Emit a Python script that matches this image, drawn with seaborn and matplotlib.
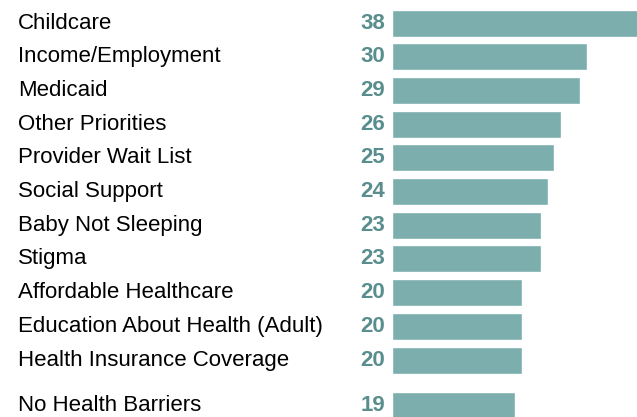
import matplotlib
matplotlib.use('Agg')
import matplotlib.pyplot as plt
import matplotlib.transforms as mtransforms
import seaborn as sns

# barriers, percent
categories = ['Childcare', 'Income/Employment', 'Medicaid', 'Other Priorities',
              'Provider Wait List', 'Social Support', 'Baby Not Sleeping', 'Stigma',
              'Affordable Healthcare', 'Education About Health (Adult)',
              'Health Insurance Coverage']
values = [38, 30, 29, 26, 25, 24, 23, 23, 20, 20, 20]
# shown apart, below the rest
other_categories = ['No Health Barriers']
other_values = [19]

bar_color = '#7BAEAD'
num_color = '#5A8E8E'

sns.set_theme(style='white')
plt.rcParams['font.family'] = ['Liberation Sans', 'DejaVu Sans']

fig = plt.figure(figsize=(6.37, 4.17), dpi=100)
ax_main = fig.add_axes([0.6154, 0.0962, 0.3846, 0.8888])
ax_other = fig.add_axes([0.6154, -0.0127, 0.3846, 0.0808])


def draw(ax, cats, vals):
    sns.barplot(x=vals, y=cats, orient='h', color=bar_color, saturation=1,
                width=0.8, ax=ax)
    ax.set_xlim(0, 37.7)
    ax.set_xticks([])
    ax.set_yticks([])
    ax.set_xlabel('')
    ax.set_ylabel('')
    sns.despine(ax=ax, left=True, bottom=True)
    ax.patch.set_alpha(0)
    lab_tr = mtransforms.blended_transform_factory(fig.transFigure, ax.transData)
    num_tr = mtransforms.offset_copy(ax.transData, fig=fig, x=-7, units='dots')
    for i, (c, v) in enumerate(zip(cats, vals)):
        ax.text(18 / 637, i, c, transform=lab_tr, ha='left', va='center',
                fontsize=16, color='black', clip_on=False)
        ax.text(0, i, str(v), transform=num_tr, ha='right', va='center',
                fontsize=16, fontweight='bold', color=num_color, clip_on=False)


draw(ax_main, categories, values)
draw(ax_other, other_categories, other_values)

fig.savefig('out.png', dpi=100)
